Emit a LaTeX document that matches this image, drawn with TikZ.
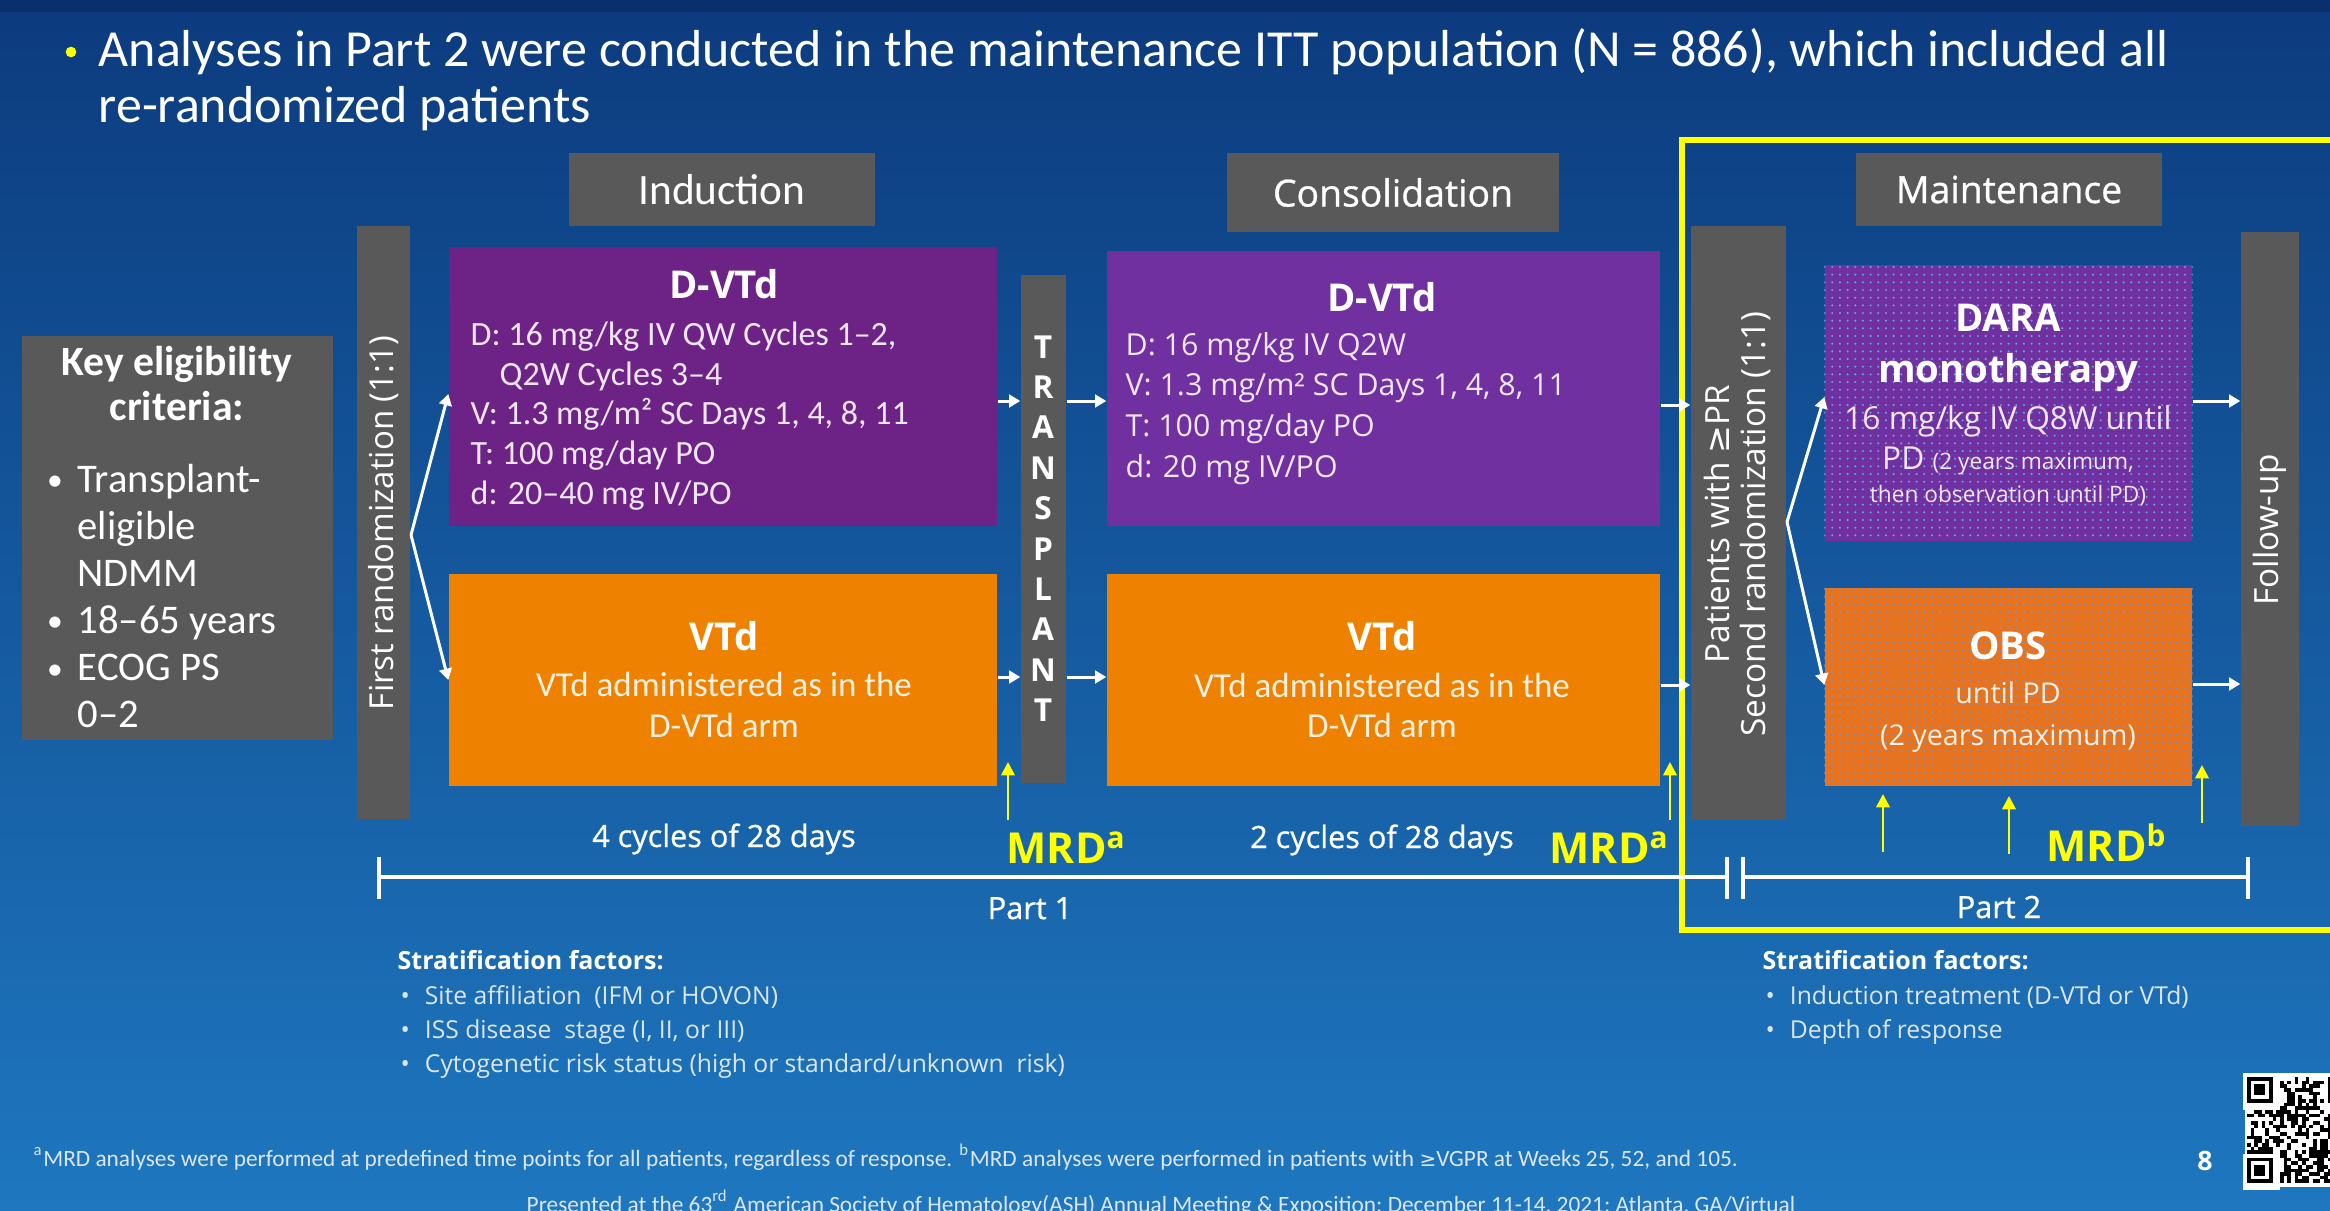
\documentclass[tikz,border=0pt]{standalone}
\usepackage{fontspec}
\setmainfont{Open Sans}
\newfontfamily\carl{Carlito}
\newfontfamily\osm[FakeBold=0.8]{Open Sans}
\newfontfamily\dvs{DejaVu Sans}
\usetikzlibrary{fit,arrows.meta,patterns.meta}
\newcommand\myfs[2]{\fontsize{#1}{#2}\selectfont}
\definecolor{bgtop}{HTML}{0C3B7E}
\definecolor{bgmid}{HTML}{1762AB}
\definecolor{bgbot}{HTML}{1E77BF}
\definecolor{bgband}{HTML}{092F6C}
\definecolor{gbar}{HTML}{595959}
\definecolor{purA}{HTML}{6C2385}
\definecolor{purB}{HTML}{7030A0}
\definecolor{orA}{HTML}{EE8100}
\definecolor{orB}{HTML}{E8731E}
\definecolor{ylw}{HTML}{FFFF00}
\definecolor{dotA}{HTML}{6E9CF0}
\definecolor{dotB}{HTML}{7C92C8}
\definecolor{ltxt}{HTML}{DCE6F2}
\tikzset{
 gbox/.style={fill=gbar, inner sep=0pt, draw=none},
 cbox/.style={inner sep=0pt, draw=none},
 wt/.style={text=white, inner sep=0pt},
 txp/.style={text=white!88!purB, inner sep=0pt},
 txo/.style={text=white!88!orA, inner sep=0pt},
 ttl/.style={wt, font=\bfseries\myfs{11.5}{13}, anchor=base},
 warr/.style={draw=white, line width=0.9pt, -{Triangle[length=3.4pt,width=3.8pt]}},
 yarr/.style={draw=ylw, line width=0.8pt, -{Triangle[length=4pt,width=4pt]}},
 tline/.style={draw=white, line width=1.3pt},
 strat/.style={text=ltxt, inner sep=0pt, font=\myfs{7.4}{10.2}, anchor=base west, align=left},
}
\begin{document}
\begin{tikzpicture}[x=0.3pt,y=-0.3pt]
\useasboundingbox (0,0) rectangle (2330,1210);
\clip (0,0) rectangle (2330,1210);
\shade[top color=bgtop, middle color=bgmid, bottom color=bgbot] (0,0) rectangle (2330,1210);
\fill[bgband] (0,0) rectangle (2330,12);

% title (base anchor = last line)
\fill[ylw] (71,52) circle (1.6pt);
\node[wt, font=\carl\myfs{15.6}{16.8}, anchor=base west, align=left] (title) at (98,122)
 {Analyses in Part 2 were conducted in the maintenance ITT population (N = 886), which included all\\re-randomized patients};

% headers
\node[gbox, fit={(569,153)(875,226)}] (hind) {};
\node[wt, font=\carl\myfs{13}{15}] (hindt) at (hind.center) {Induction};
\node[gbox, fit={(1227,153)(1559,232)}] (hcon) {};
\node[wt, font=\osm\myfs{11.2}{13}] (hcont) at (hcon.center) {Consolidation};
\node[gbox, fit={(1856,153)(2162,226)}] (hmai) {};
\node[wt, font=\osm\myfs{11.2}{13}] (hmait) at (hmai.center) {Maintenance};

% key eligibility
\node[gbox, fit={(22,336)(333,740)}] (key) {};
\node[wt, font=\carl\bfseries\myfs{12.5}{14}, anchor=base] (keyt1) at (177,375) {Key eligibility};
\node[wt, font=\carl\bfseries\myfs{12.5}{14}, anchor=base] (keyt2) at (177,420) {criteria:};
\node[wt, font=\carl\myfs{12.2}{14.1}, anchor=base west, align=left] (keyb) at (77,727)
 {Transplant-\\eligible\\NDMM\\18–65 years\\ECOG PS\\0–2};
\foreach \yy/\n in {492/1,633/2,681/3}
 \node[wt, font=\carl\myfs{9.5}{12}, anchor=base] (kb\n) at (55,{\yy-2}) {•};

% first randomization
\node[gbox, fit={(357,226)(410,819)}] (r1) {};
\node[wt, rotate=90, font=\myfs{9.9}{12}] (r1t) at (384,523) {First randomization (1:1)};

% induction arms
\node[cbox, fill=purA, fit={(449,247)(997,526)}] (i1) {};
\node[ttl] (i1t) at (724,298) {D-VTd};
\node[txp, font=\carl\myfs{10.2}{11.9}, anchor=base west, align=left] (i1b) at (470,504)
 {D: 16 mg/kg IV QW Cycles 1–2,\\\hspace*{8.7pt}Q2W Cycles 3–4\\V: 1.3 mg/m² SC Days 1, 4, 8, 11\\T: 100 mg/day PO\\d: 20–40 mg IV/PO};
\node[cbox, fill=orA, fit={(449,574)(997,786)}] (i2) {};
\node[ttl] (i2t) at (724,650) {VTd};
\node[txo, font=\carl\myfs{10.5}{12.1}, anchor=base, align=center] (i2b) at (724,737)
 {VTd administered as in the\\D-VTd arm};

% transplant
\node[gbox, fit={(1021,275)(1066,783)}] (tp) {};
\foreach \l [count=\i] in {T,R,A,N,S,P,L,A,N,T}
 \node[wt, font=\bfseries\myfs{9.5}{11}, anchor=base] (tp\i) at (1043,{358+40.4*(\i-1)}) {\l};

% consolidation arms
\node[cbox, fill=purB, fit={(1107,251)(1660,526)}] (c1) {};
\node[ttl] (c1t) at (1382,311) {D-VTd};
\node[txp, font=\myfs{9.1}{12.2}, anchor=base west, align=left] (c1b) at (1125,477)
 {D: 16 mg/kg IV Q2W\\V: 1.3 mg/m² SC Days 1, 4, 8, 11\\T: 100 mg/day PO\\d: 20 mg IV/PO};
\node[cbox, fill=orA, fit={(1107,574)(1660,786)}] (c2) {};
\node[ttl] (c2t) at (1382,650) {VTd};
\node[txo, font=\carl\myfs{10.5}{12}, anchor=base, align=center] (c2b) at (1382,737)
 {VTd administered as in the\\D-VTd arm};

% part 2 frame
\node[draw=ylw, line width=1.6pt, inner sep=0pt, fit={(1682,140)(2345,930)}] (p2box) {};

% second randomization
\node[gbox, fit={(1691,226)(1786,820)}] (r2) {};
\node[wt, rotate=90, font=\myfs{10}{10.8}, align=center] (r2t) at (1737,524)
 {Patients with {\dvs ≥}PR\\Second randomization (1:1)};

% maintenance arms
\node[cbox, fill=purB, fit={(1825,265)(2192,541)}] (dara) {};
\path[pattern={Dots[distance=2.3pt,radius=0.35pt]}, pattern color=dotA] (dara.north west) rectangle (dara.south east);
\node[wt, font=\bfseries\myfs{11.5}{13}, anchor=base] (dat1) at (2008,331) {DARA};
\node[wt, font=\bfseries\myfs{11.5}{13}, anchor=base] (dat2) at (2008,382) {monotherapy};
\node[txp, font=\myfs{9.5}{11}, anchor=base] (dat3) at (2008,429) {16 mg/kg IV Q8W until};
\node[txp, font=\myfs{9.5}{11}, anchor=base] (dat4) at (2008,469) {PD {\myfs{6.8}{8}(2 years maximum,}};
\node[txp, font=\myfs{6.8}{8}, anchor=base] (dat5) at (2008,502) {then observation until PD)};

\node[cbox, fill=orB, fit={(1825,588)(2192,786)}] (obs) {};
\path[pattern={Dots[distance=2.3pt,radius=0.35pt]}, pattern color=dotB] (obs.north west) rectangle (obs.south east);
\node[ttl] (obt1) at (2008,659) {OBS};
\node[txo, font=\myfs{8.6}{10}, anchor=base] (obt2) at (2008,703) {until PD};
\node[txo, font=\myfs{8.6}{10}, anchor=base] (obt3) at (2008,745) {(2 years maximum)};

% follow-up
\node[gbox, fit={(2241,232)(2299,826)}] (fu) {};
\node[wt, rotate=90, font=\myfs{10}{12}] (fut) at (2270,530) {Follow-up};

% white connectors
\coordinate (ya) at (0,401);
\coordinate (yb) at (0,677);
\coordinate (yc) at (0,405);
\coordinate (yd) at (0,685);
\coordinate (fk1) at (411,535);
\coordinate (fk2) at (1787,522);
\draw[warr] (fk1) -- (i1.west |- 0,394);
\draw[warr] (fk1) -- (i2.west);
\draw[warr] (i1.east |- ya) -- (tp.west |- ya);
\draw[warr] (i2.east |- yb) -- (tp.west |- yb);
\draw[warr] (tp.east |- ya) -- (c1.west |- ya);
\draw[warr] (tp.east |- yb) -- (c1.west |- yb);
\draw[warr] (c1.east |- yc) -- (r2.west |- yc);
\draw[warr] (c2.east |- yd) -- (r2.west |- yd);
\draw[warr] (fk2) -- (dara.west |- 0,397);
\draw[warr] (fk2) -- (obs.west |- 0,685);
\draw[warr] (dara.east |- ya) -- (fu.west |- ya);
\draw[warr] (obs.east |- 0,684) -- (fu.west |- 0,684);

% MRD arrows
\coordinate (m1a) at (1008,820); \coordinate (m1b) at (1008,762);
\coordinate (m2a) at (1670,820); \coordinate (m2b) at (1670,762);
\coordinate (m3a) at (1883,852); \coordinate (m3b) at (1883,794);
\coordinate (m4a) at (2009,854); \coordinate (m4b) at (2009,796);
\coordinate (m5a) at (2202,823); \coordinate (m5b) at (2202,765);
\foreach \k in {1,...,5} \draw[yarr] (m\k a) -- (m\k b);
\node[text=ylw, inner sep=0pt, font=\bfseries\myfs{12.8}{14}, anchor=base west] (mrd1) at (1006,863) {MRD\textsuperscript{a}};
\node[text=ylw, inner sep=0pt, font=\bfseries\myfs{12.8}{14}, anchor=base west] (mrd2) at (1549,863) {MRD\textsuperscript{a}};
\node[text=ylw, inner sep=0pt, font=\bfseries\myfs{12.8}{14}, anchor=base west] (mrd3) at (2046,861) {MRD\textsuperscript{b}};

% cycles
\node[wt, font=\osm\myfs{9.2}{11}, anchor=base] (cy1) at (724,847) {4 cycles of 28 days};
\node[wt, font=\osm\myfs{9.2}{11}, anchor=base] (cy2) at (1382,848) {2 cycles of 28 days};

% timeline
\coordinate (t0) at (379,877); \coordinate (t1) at (1727,877);
\coordinate (t2) at (1743,877); \coordinate (t3) at (2248,877);
\draw[tline] (t0) -- (t1);
\draw[tline] (t2) -- (t3);
\foreach \xx in {379,1727,1743,2248} \draw[white, line width=1pt] (\xx,857) -- (\xx,899);
\node[wt, font=\osm\myfs{9.2}{11}, anchor=base] (pt1) at (1030,919) {Part 1};
\node[wt, font=\osm\myfs{9.2}{11}, anchor=base] (pt2) at (1999,918) {Part 2};

% stratification
\node[wt, font=\bfseries\myfs{7.5}{10}, anchor=base west] (sfl) at (397,969) {Stratification factors:};
\node[strat] (sfl1) at (400,1072) {•\hspace{4.5pt}Site affiliation\ \ (IFM or HOVON)\\•\hspace{4.5pt}ISS disease\ \ stage (I, II, or III)\\•\hspace{4.5pt}Cytogenetic risk status (high or standard/unknown\ \ risk)};
\node[wt, font=\bfseries\myfs{7.5}{10}, anchor=base west] (sfr) at (1762,969) {Stratification factors:};
\node[strat] (sfr1) at (1765,1038) {•\hspace{4.5pt}Induction treatment (D-VTd or VTd)\\•\hspace{4.5pt}Depth of response};

% footnotes
\node[text=ltxt, inner sep=0pt, font=\carl\myfs{7}{8}, anchor=base west] (fn) at (33,1166)
 {\textsuperscript{a}MRD analyses were performed at predefined time points for all patients, regardless of response. \textsuperscript{b}MRD analyses were performed in patients with {\dvs\myfs{6}{8}≥}VGPR at Weeks 25, 52, and 105.};
\node[wt, font=\bfseries\myfs{8}{9}] (pg) at (2205,1161) {8};
\node[text=ltxt, inner sep=0pt, font=\carl\myfs{7}{8}, anchor=base] (pres) at (1161,1212)
 {Presented at the 63\textsuperscript{rd} American Society of Hematology(ASH) Annual Meeting \& Exposition; December 11-14, 2021; Atlanta, GA/Virtual};

% QR code
\fill[white] (2245,1073) rectangle (2335,1187);
\pgfmathsetseed{7}
\foreach \i in {0,...,28} {
 \foreach \j in {0,...,28} {
  \pgfmathrandominteger{\rr}{0}{1}
  \ifnum\rr=1 \fill[black] ({2247+3.66*\i},{1077+3.66*\j}) rectangle ++(3.66,3.66); \fi
 }
}
\foreach \ox/\oy in {2247/1077, 2247/1157.5, 2327.5/1077} {
 \fill[white] (\ox-3.66,\oy-3.66) rectangle ++(36.6,36.6);
 \fill[black] (\ox,\oy) rectangle ++(25.62,25.62);
 \fill[white] (\ox+3.66,\oy+3.66) rectangle ++(18.3,18.3);
 \fill[black] (\ox+7.32,\oy+7.32) rectangle ++(10.98,10.98);
}
\end{tikzpicture}
\end{document}
